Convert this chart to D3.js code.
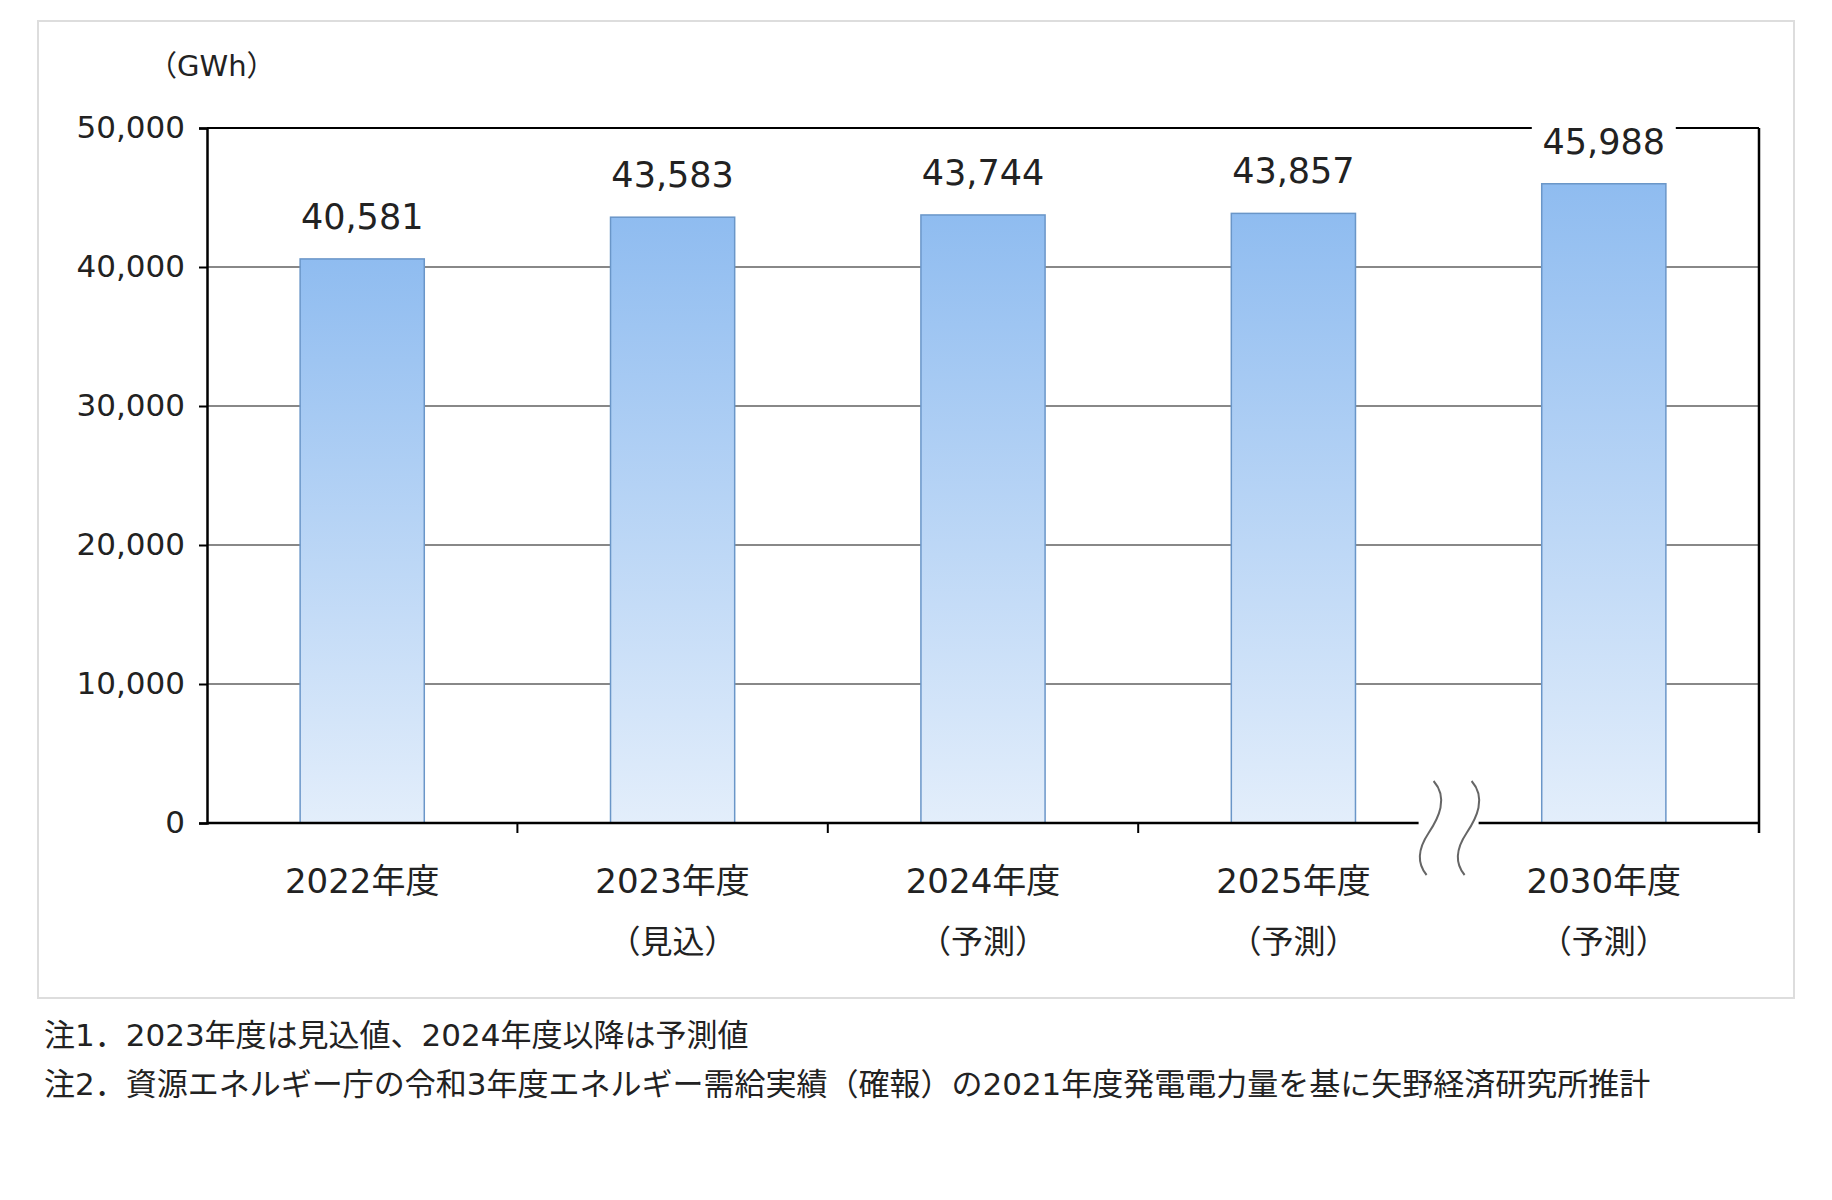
<!DOCTYPE html>
<html><head><meta charset="utf-8">
<script src="https://cdn.jsdelivr.net/npm/d3@7"></script>
<style>body{margin:0;background:#fff}text{font-family:"DejaVu Sans","Noto Sans CJK JP",sans-serif;fill:#222}</style>
</head><body>
<script>
const years = ["2022年度", "2023年度", "2024年度", "2025年度", "2030年度"];
const notes = ["", "（見込）", "（予測）", "（予測）", "（予測）"];
const values = [40581, 43583, 43744, 43857, 45988];
const yTicks = [0, 10000, 20000, 30000, 40000, 50000];
const footnotes = ["注1．2023年度は見込値、2024年度以降は予測値",
  "注2．資源エネルギー庁の令和3年度エネルギー需給実績（確報）の2021年度発電電力量を基に矢野経済研究所推計"];

const svg = d3.select("body").append("svg").attr("width", 1832).attr("height", 1200);
const defs = svg.append("defs");
const g = defs.append("linearGradient").attr("id", "bg").attr("x1", 0).attr("y1", 0).attr("x2", 0).attr("y2", 1);
g.append("stop").attr("offset", "0%").attr("stop-color", "#8fbcf0");
g.append("stop").attr("offset", "100%").attr("stop-color", "#e3eefb");

svg.append("rect").attr("x", 38).attr("y", 21).attr("width", 1756).attr("height", 977)
  .attr("fill", "#fff").attr("stroke", "#ddd").attr("stroke-width", 2);

const L = 207, R = 1759, T = 128, B = 823;
const x = d3.scaleBand().domain(years).range([L, R]).paddingInner(0.6).paddingOuter(0.3);
const y = d3.scaleLinear().domain([0, 50000]).range([B, T]);

svg.append("g").selectAll("line").data(yTicks.slice(1)).join("line")
  .attr("x1", L).attr("x2", R).attr("y1", d => y(d)).attr("y2", d => y(d))
  .attr("stroke", d => d === 50000 ? "#000" : "#888").attr("stroke-width", 2);

svg.append("g").selectAll("rect").data(values).join("rect")
  .attr("x", (d, i) => x(years[i])).attr("width", x.bandwidth())
  .attr("y", d => y(d)).attr("height", d => B - y(d))
  .attr("fill", "url(#bg)").attr("stroke", "#6a96c8").attr("stroke-width", 1.5);

const yAxis = svg.append("g").attr("transform", `translate(${L},0)`)
  .call(d3.axisLeft(y).tickValues(yTicks).tickSize(8).tickPadding(14).tickFormat(d3.format(",")));
yAxis.select(".domain").attr("stroke", "#000").attr("stroke-width", 2.5);
yAxis.selectAll("text").style("font-size", "31px");
yAxis.selectAll("line").attr("stroke", "#000").attr("stroke-width", 2);

svg.append("line").attr("x1", R).attr("x2", R).attr("y1", T).attr("y2", B + 10)
  .attr("stroke", "#000").attr("stroke-width", 2.5);
svg.append("line").attr("x1", L).attr("x2", R).attr("y1", B).attr("y2", B)
  .attr("stroke", "#000").attr("stroke-width", 2.5);
svg.append("g").selectAll("line").data([1, 2, 3]).join("line")
  .attr("x1", i => L + i * (R - L) / years.length).attr("x2", i => L + i * (R - L) / years.length)
  .attr("y1", B).attr("y2", B + 10).attr("stroke", "#000").attr("stroke-width", 2);

// break mark
const bx = (x(years[3]) + x.bandwidth() + x(years[4])) / 2;
const brk = svg.append("g").attr("transform", `translate(${bx},${B})`);
brk.append("rect").attr("x", -30).attr("y", -3).attr("width", 60).attr("height", 16).attr("fill", "#fff");
[-20, 18].forEach(dx => brk.append("path")
  .attr("d", `M${dx + 5},-42 C${dx + 20},-25 ${dx + 10},-5 ${dx},10 C${dx - 10},25 ${dx - 12},40 ${dx - 2},52`)
  .attr("fill", "none").attr("stroke", "#666").attr("stroke-width", 2));

svg.append("g").selectAll("g").data(values).join("g").each(function (d, i) {
  const cx = x(years[i]) + x.bandwidth() / 2;
  const t = d3.select(this);
  if (i === 4) t.append("rect").attr("x", cx - 72).attr("y", y(d) - 68).attr("width", 144).attr("height", 50).attr("fill", "#fff");
  t.append("text").attr("x", cx).attr("y", y(d) - 30).attr("text-anchor", "middle")
    .style("font-size", "35px").text(d3.format(",")(d));
  t.append("text").attr("x", cx).attr("y", 893).attr("text-anchor", "middle")
    .style("font-size", "34px").text(years[i]);
  t.append("text").attr("x", cx).attr("y", 953).attr("text-anchor", "middle")
    .style("font-size", "32px").text(notes[i]);
});

svg.append("text").attr("x", 148).attr("y", 76).style("font-size", "29px").text("（GWh）");
svg.selectAll(".fn").data(footnotes).join("text").attr("class", "fn")
  .attr("x", 44).attr("y", (d, i) => 1046 + i * 49).style("font-size", "31px").text(d => d);
</script>
</body></html>
